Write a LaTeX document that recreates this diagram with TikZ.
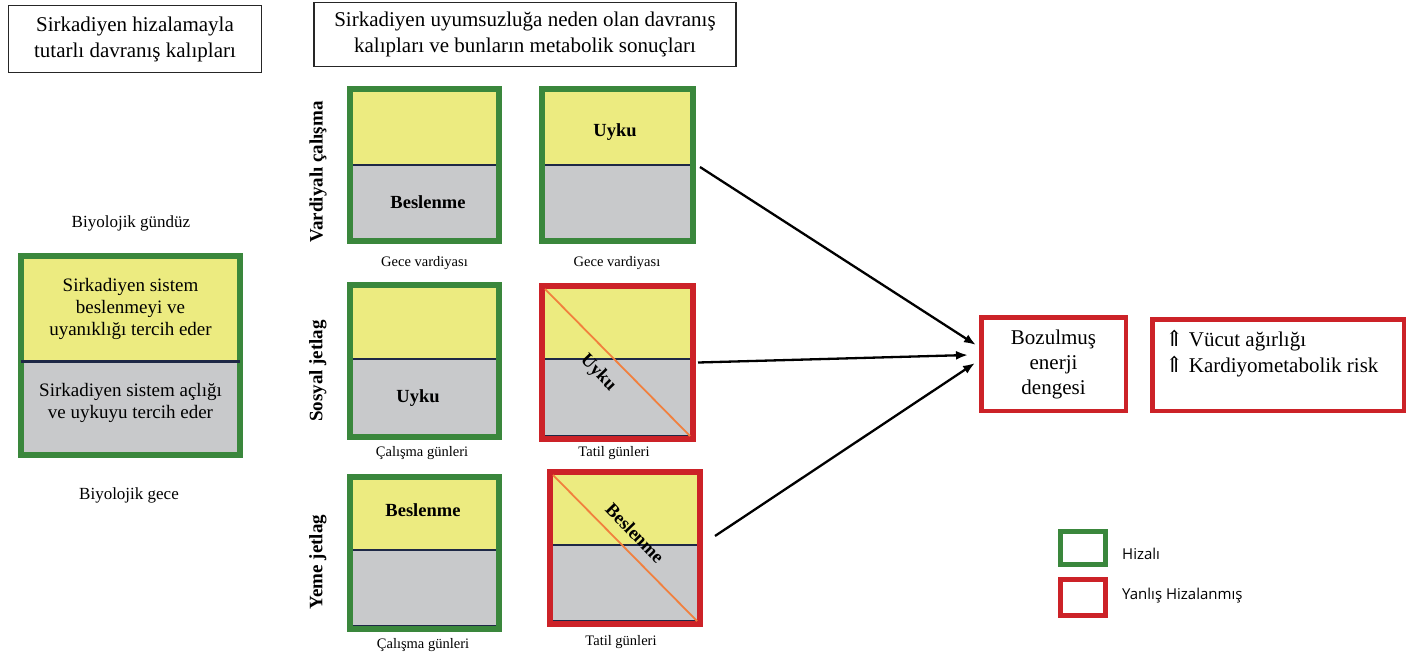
\documentclass[tikz,border=0pt]{standalone}
\usepackage{fontspec}
\setmainfont{Liberation Serif}
\newfontfamily\legfont{Open Sans}
\newfontfamily\symfont{DejaVu Serif}
\usetikzlibrary{arrows.meta,fit,calc}
\definecolor{cgreen}{RGB}{58,135,60}
\definecolor{cred}{RGB}{204,34,40}
\definecolor{cyel}{RGB}{236,235,128}
\definecolor{cgray}{RGB}{200,201,203}
\definecolor{cdiv}{RGB}{30,40,70}
\definecolor{corange}{RGB}{241,128,62}
\tikzset{
  divline/.style={draw=cdiv, line width=1.6pt},
  panelframe/.style={rectangle, line width=6pt, inner sep=0pt, outer sep=3pt},
  tbox/.style={draw=black!85, line width=1.6pt, align=center, inner sep=0pt, font=\fontsize{21}{26}\selectfont},
  rbox/.style={draw=cred, line width=4.5pt, align=center, inner sep=0pt, font=\fontsize{21}{25}\selectfont},
  lbl/.style={font=\fontsize{14.5}{17}\selectfont, inner sep=0pt},
  biolbl/.style={font=\fontsize{17}{20}\selectfont, inner sep=0pt},
  inlbl/.style={font=\bfseries\fontsize{18.5}{21}\selectfont, inner sep=0pt},
  rowlbl/.style={font=\bfseries\fontsize{19}{22}\selectfont, inner sep=0pt, rotate=90},
  bigtxt/.style={font=\fontsize{19}{22}\selectfont, align=center, inner sep=0pt},
  legbox/.style={rectangle, line width=5pt, inner sep=0pt},
  legtxt/.style={font=\legfont\fontsize{15}{18}\selectfont, inner sep=0pt, anchor=west},
  diag/.style={draw=corange, line width=1.8pt},
  arr/.style={-{Latex[length=12pt,width=9pt]}, line width=2.3pt, draw=black}
}
\newcommand\mypanel[7]{%
  \fill[cyel] (#2,#3) rectangle (#4,#6);
  \fill[cgray] (#2,#6) rectangle (#4,#5);
  \draw[divline] (#2,#6) -- (#4,#6);
  \node[panelframe, draw=#7, fit={(#2+3,#3+3) (#4-3,#5-3)}] (#1) {};
}
\newcommand\uparr{{\symfont\fontsize{22}{26}\selectfont ⇑}}
\begin{document}
\begin{tikzpicture}[x=1pt, y=-1pt]
\useasboundingbox (0,0) rectangle (1418,657);

% title boxes
\node[tbox, minimum width=253, minimum height=67] (t1) at (135,39) {Sirkadiyen hizalamayla\\tutarlı davranış kalıpları};
\node[tbox, minimum width=422, minimum height=64] (t2) at (525,34.5) {Sirkadiyen uyumsuzluğa neden olan davranış\\kalıpları ve bunların metabolik sonuçları};

% big left panel
\mypanel{big}{18}{253}{243}{458}{361}{cgreen}
\draw[draw=cdiv, line width=3pt] ($(big.west)+(3,5.5)$) -- ($(big.east)+(-3,5.5)$);
\node[bigtxt] (bigtop) at (130.5,309) {Sirkadiyen sistem\\beslenmeyi ve\\uyanıklığı tercih eder};
\node[bigtxt] (bigbot) at (130.5,403) {Sirkadiyen sistem açlığı\\ve uykuyu tercih eder};
\node[biolbl] (gunduz) at (131,223) {Biyolojik gündüz};
\node[biolbl] (gece) at (129,495) {Biyolojik gece};

% row 1
\mypanel{r1l}{347}{86}{502}{244}{165}{cgreen}
\mypanel{r1r}{539}{86}{696}{244}{165}{cgreen}
\node[inlbl] (r1lt) at (428,202) {Beslenme};
\node[inlbl] (r1rt) at (615,132) {Uyku};
\node[lbl] (r1lc) at (424.5,263) {Gece vardiyası};
\node[lbl] (r1rc) at (617,263) {Gece vardiyası};
\node[rowlbl] (row1) at (318,172) {Vardiyalı çalışma};

% row 2
\mypanel{r2l}{347}{282}{502}{440}{359}{cgreen}
\mypanel{r2r}{539}{283}{696}{442}{359}{cred}
\draw[divline] ($(r2r.south west)+(6,-6.5)$) -- ($(r2r.south east)+(-6,-6.5)$);
\draw[diag] ($(r2r.north west)+(6,6)$) -- ($(r2r.south east)+(-6,-6)$);
\node[inlbl] (r2lt) at (418,398) {Uyku};
\node[inlbl, rotate=-46] (r2rt) at (598,373) {Uyku};
\node[lbl] (r2lc) at (422,453) {Çalışma günleri};
\node[lbl] (r2rc) at (614,453) {Tatil günleri};
\node[rowlbl] (row2) at (318,371) {Sosyal jetlag};

% row 3
\mypanel{r3l}{347}{474}{502}{632}{550}{cgreen}
\mypanel{r3r}{547}{469}{703}{627}{545}{cred}
\draw[divline] ($(r3l.south west)+(6,-6.5)$) -- ($(r3l.south east)+(-6,-6.5)$);
\draw[divline] ($(r3r.south west)+(6,-6.5)$) -- ($(r3r.south east)+(-6,-6.5)$);
\draw[diag] ($(r3r.north west)+(6,6)$) -- ($(r3r.south east)+(-6,-6)$);
\node[inlbl] (r3lt) at (423,510) {Beslenme};
\node[inlbl, rotate=-46] (r3rt) at (635,533) {Beslenme};
\node[lbl] (r3lc) at (423,645) {Çalışma günleri};
\node[lbl] (r3rc) at (621,642) {Tatil günleri};
\node[rowlbl] (row3) at (318,562) {Yeme jetlag};

% outcome boxes
\node[rbox, minimum width=144.5, minimum height=93.5] (boz) at (1053.5,364) {Bozulmuş\\enerji\\dengesi};
\node[rbox, minimum width=251.5, minimum height=91.5] (risk) at (1278,365) {};
\node[font=\fontsize{21}{26}\selectfont, align=left, inner sep=0pt, anchor=north west] (risktxt) at (1165,330)
  {\uparr\ Vücut ağırlığı\\\uparr\ Kardiyometabolik risk};

% arrows
\draw[arr] ($(r1r.east)+(4,2)$) -- ($(boz.west)+(-3,-19)$);
\draw[arr] ($(r2r.east)+(2,0)$) -- ($(boz.west)+(-11,-9)$);
\draw[arr] ($(r3r.east)+(12,-12)$) -- ($(boz.west)+(-4,-1)$);

% legend
\node[legbox, draw=cgreen, minimum width=45, minimum height=33] (legg) at (1083,548) {};
\node[legbox, draw=cred, minimum width=45, minimum height=36] (legr) at (1083,597.5) {};
\node[legtxt] (leggt) at (1122,554) {Hizalı};
\node[legtxt] (legrt) at (1122,596) {Yanlış Hizalanmış};
\end{tikzpicture}
\end{document}
